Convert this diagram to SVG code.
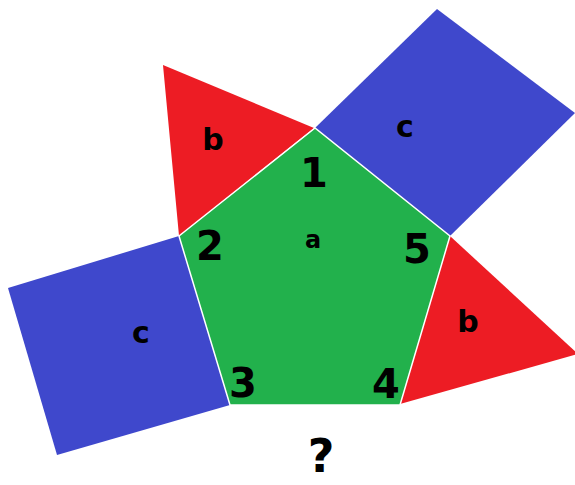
<svg xmlns="http://www.w3.org/2000/svg" width="575" height="485" viewBox="0 0 575 485">
<style>
.g{fill:#22b14c;stroke:#ffffff;stroke-width:1.5}
.r{fill:#ed1c24}
.bl{fill:#3f48cc}
text{font-family:"DejaVu Sans",sans-serif;font-weight:bold;fill:#000;text-anchor:middle}
.d{font-size:40px}
.l{font-size:30px}
</style>
<rect width="575" height="485" fill="#ffffff"/>
<g id="triangle-top"><polygon class="r" points="163,65 314,128 179,236"/><text class="l" x="213" y="150">b</text></g>
<g id="square-top"><polygon class="bl" points="315,128 437,9 575,113 450,236"/><text class="l" x="405" y="137">c</text></g>
<g id="square-left"><polygon class="bl" points="179,236 8,288 57,455 230,405"/><text class="l" x="141" y="343">c</text></g>
<g id="triangle-right"><polygon class="r" points="450,236 578,354 400,404"/><text class="l" x="468" y="332">b</text></g>
<g id="pentagon"><polygon class="g" points="315,128 179,236 230,405 400,405 450,236"/>
<text class="d" x="314" y="187">1</text>
<text class="d" x="210" y="260">2</text>
<text class="d" x="243" y="397">3</text>
<text class="d" x="386" y="398">4</text>
<text class="d" x="417" y="263">5</text>
<text x="313" y="248" font-size="24px">a</text></g>
<g id="connectors"/>
<text x="321" y="472" font-size="46px">?</text>
</svg>
